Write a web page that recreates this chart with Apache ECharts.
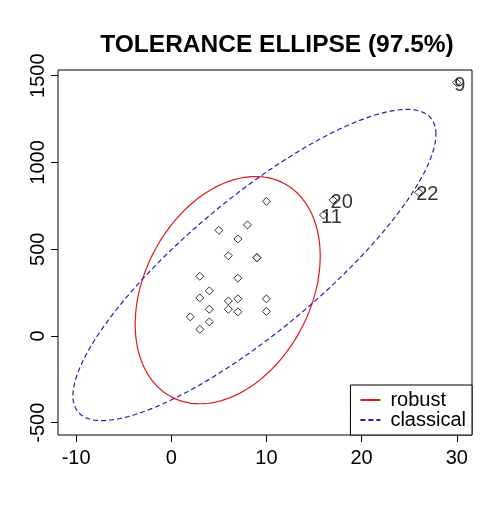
<!DOCTYPE html>
<html>
<head>
<meta charset="utf-8">
<script src="https://cdn.jsdelivr.net/npm/echarts@6/dist/echarts.min.js"></script>
<style>html,body{margin:0;padding:0;background:#fff}#c{width:500px;height:512px}</style>
</head>
<body>
<div id="c"></div>
<script>
// regular points (duplicate at (9,450) drawn twice)
const xValues = [10, 8, 5, 7, 6, 9, 9, 3, 7, 4, 3, 6, 7, 10, 4, 6, 7, 10, 2, 4, 3];
const yValues = [776, 640, 609, 559, 462, 451, 451, 344, 333, 260, 219, 202, 214, 214, 154, 154, 139, 141, 110, 81, 38];
// labelled outliers
const outX = [30, 26, 17, 16];
const outY = [1460, 828, 784, 697];
const outLabels = ['9', '22', '20', '11'];
// ellipse parameters: centre, half-extents along x and y, correlation
const robustEllipse = {cx: 5.93, cy: 264, ax: 9.72, ay: 655, r: 0.30};
const classicalEllipse = {cx: 8.74, cy: 409, ax: 19.07, ay: 897, r: 0.84};
const xTicks = [-10, 0, 10, 20, 30];
const yTicks = [-500, 0, 500, 1000, 1500];

function ellipsePoints(e, n) {
  const pts = [];
  const s = Math.sqrt(1 - e.r * e.r);
  for (let i = 0; i <= n; i++) {
    const t = 2 * Math.PI * i / n;
    pts.push([e.cx + e.ax * Math.cos(t), e.cy + e.ay * (e.r * Math.cos(t) + s * Math.sin(t))]);
  }
  return pts;
}

const font = 'Liberation Sans, Arial, sans-serif';
const chart = echarts.init(document.getElementById('c'), null, {renderer: 'canvas'});
chart.setOption({
  animation: false,
  backgroundColor: '#fff',
  title: {
    text: 'TOLERANCE ELLIPSE (97.5%)',
    left: 272, top: 28, textAlign: 'center',
    textStyle: {fontFamily: font, fontWeight: 'bold', fontSize: 24.5, color: '#000'}
  },
  grid: {left: 58, right: 28, top: 70, bottom: 77, show: true, borderColor: '#000', borderWidth: 1, backgroundColor: 'transparent'},
  xAxis: {
    type: 'value', min: -11.9, max: 31.6,
    axisLine: {show: false, onZero: false}, splitLine: {show: false},
    axisTick: {show: true, inside: false, length: 7, lineStyle: {color: '#000'}, customValues: xTicks},
    axisLabel: {margin: 13, fontFamily: font, fontSize: 20, color: '#000', customValues: xTicks, formatter: v => String(v)}
  },
  yAxis: {
    type: 'value', min: -571, max: 1533,
    axisLine: {show: false, onZero: false}, splitLine: {show: false},
    axisTick: {show: true, inside: false, length: 7, lineStyle: {color: '#000'}, customValues: yTicks},
    axisLabel: {margin: 10, rotate: 90, fontFamily: font, fontSize: 20, color: '#000', customValues: yTicks, formatter: v => String(v)}
  },
  legend: {
    orient: 'vertical', right: 28, bottom: 77,
    backgroundColor: '#fff', borderColor: '#000', borderWidth: 1, borderRadius: 0,
    padding: [5, 6, 5, 9], itemGap: 0, itemWidth: 20, itemHeight: 17,
    itemStyle: {opacity: 0},
    textStyle: {fontFamily: font, fontSize: 20, color: '#000', lineHeight: 17, padding: [0, 0, 0, 5]},
    data: ['robust', 'classical']
  },
  series: [
    {
      name: 'robust', type: 'line', symbol: 'none', smooth: false,
      lineStyle: {color: '#e01818', width: 1.2},
      itemStyle: {color: '#e01818'},
      data: ellipsePoints(robustEllipse, 240), z: 2
    },
    {
      name: 'classical', type: 'line', symbol: 'none', smooth: false,
      lineStyle: {color: '#2020b8', width: 1.2, type: [5, 3]},
      itemStyle: {color: '#2020b8'},
      data: ellipsePoints(classicalEllipse, 360), z: 2
    },
    {
      name: 'points', type: 'scatter', symbol: 'diamond', symbolSize: 8,
      itemStyle: {color: '#fff', borderColor: '#000', borderWidth: 1},
      data: xValues.map((x, i) => [x, yValues[i]]), z: 3
    },
    {
      name: 'outliers', type: 'scatter', symbol: 'diamond', symbolSize: 8,
      itemStyle: {color: '#fff', borderColor: '#000', borderWidth: 1},
      label: {
        show: true, position: [2, 7], align: 'left', verticalAlign: 'middle',
        fontFamily: font, fontSize: 20, color: '#000',
        formatter: p => outLabels[p.dataIndex]
      },
      data: outX.map((x, i) => [x, outY[i]]), z: 4
    }
  ]
});
</script>
</body>
</html>
